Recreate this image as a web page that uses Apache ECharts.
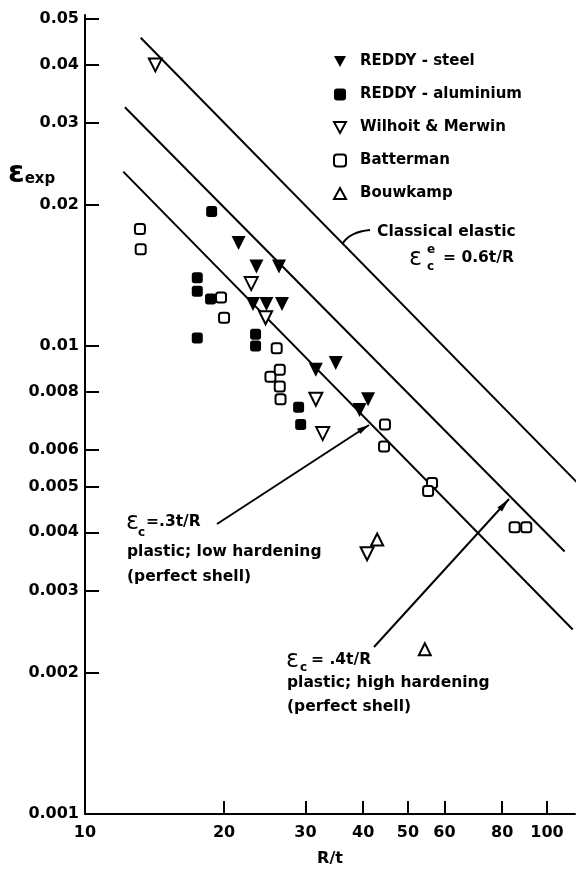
<!DOCTYPE html>
<html><head><meta charset="utf-8">
<script src="https://cdn.jsdelivr.net/npm/echarts@6/dist/echarts.min.js"></script>
<style>html,body{margin:0;padding:0;background:#fff}#c{width:581px;height:872px}</style>
</head><body><div id="c"></div>
<script>
// ---- data ----
const xTicks = [10, 20, 30, 40, 50, 60, 80, 100];
const yTicks = [0.001, 0.002, 0.003, 0.004, 0.005, 0.006, 0.008, 0.01, 0.02, 0.03, 0.04, 0.05];
const seriesNames = ['REDDY - steel', 'REDDY - aluminium', 'Wilhoit & Merwin', 'Batterman', 'Bouwkamp'];
const reddySteel = [[21.5,0.0166],[23.5,0.0148],[26.3,0.0148],[23.1,0.0123],[24.7,0.0123],[26.7,0.0123],[31.6,0.0089],[34.9,0.0092],[41.0,0.0077],[39.3,0.0073]];
const reddyAluminium = [[18.8,0.0194],[17.5,0.0140],[17.5,0.0131],[18.7,0.0126],[17.5,0.0104],[23.4,0.0106],[23.4,0.0100],[29.0,0.0074],[29.3,0.0068]];
const wilhoitMerwin = [[14.2,0.0399],[22.9,0.0136],[24.6,0.0115],[31.6,0.0077],[32.7,0.0065],[40.8,0.0036]];
const batterman = [[13.15,0.0178],[13.2,0.0161],[19.7,0.0127],[20.0,0.0115],[26.0,0.0099],[25.2,0.0086],[26.4,0.0089],[26.4,0.0082],[26.5,0.0077],[44.6,0.0068],[44.4,0.0061],[56.4,0.0051],[55.3,0.0049],[85.1,0.0041],[90.2,0.0041]];
const bouwkamp = [[42.9,0.00386],[54.4,0.00225]];
const classicalElasticLine = [[13.2,0.0456],[118.3,0.00502]];
const highHardeningLine = [[12.2,0.0324],[109.2,0.00364]];
const lowHardeningLine = [[12.1,0.0236],[113.7,0.00248]];

// ---- chart ----
const FONT = 'DejaVu Sans';
const DOWN = 'path://M0,0 L10,0 L5,9 Z';
const UP = 'path://M5,0 L10,9 L0,9 Z';
const chart = echarts.init(document.getElementById('c'), null, {renderer: 'canvas'});
const fmt = v => String(+(+v).toPrecision(6));
const lineS = (name, data) => ({
  type: 'line', name, data, symbol: 'none', silent: true, clip: false, z: 1,
  lineStyle: {color: '#000', width: 2}
});
const scat = (name, data, symbol, size, filled) => ({
  type: 'scatter', name, data, symbol, symbolSize: size, z: 3,
  itemStyle: {color: filled ? '#000' : '#fff', borderColor: '#000', borderWidth: filled ? 0 : 2, opacity: 1}
});
const txt = (x, y, text, size) => ({
  type: 'text', x, y, z: 10,
  style: {text, font: 'bold ' + size + 'px "' + FONT + '"', fill: '#000',
          textVerticalAlign: 'middle', verticalAlign: 'middle', textAlign: 'left', align: 'left'}
});
const eps = (x, y, size) => ({
  type: 'text', x, y, z: 10,
  style: {text: 'ε', font: size + 'px "' + FONT + '"', fill: '#000',
          textVerticalAlign: 'middle', verticalAlign: 'middle', textAlign: 'left', align: 'left'}
});

const option = {
  animation: false,
  backgroundColor: '#fff',
  grid: {left: 85, right: 6, top: 15, bottom: 58, containLabel: false, outerBoundsMode: 'none'},
  xAxis: {
    type: 'log', logBase: 10, min: 10, max: 115,
    axisLine: {show: true, onZero: false, lineStyle: {color: '#000', width: 2}},
    axisTick: {show: true, inside: true, length: 13, customValues: xTicks, lineStyle: {color: '#000', width: 2}},
    axisLabel: {show: true, customValues: xTicks, color: '#000', fontFamily: FONT, fontWeight: 'bold', fontSize: 16, margin: 11, formatter: fmt},
    splitLine: {show: false}, minorTick: {show: false},
    name: 'R/t', nameLocation: 'middle', nameGap: 37,
    nameTextStyle: {color: '#000', fontFamily: FONT, fontWeight: 'bold', fontSize: 16}
  },
  yAxis: {
    type: 'log', logBase: 10, min: 0.001, max: 0.051,
    axisLine: {show: true, onZero: false, lineStyle: {color: '#000', width: 2}},
    axisTick: {show: true, inside: true, length: 14, customValues: yTicks, lineStyle: {color: '#000', width: 2}},
    axisLabel: {show: true, customValues: yTicks, color: '#000', fontFamily: FONT, fontWeight: 'bold', fontSize: 16, margin: 6, formatter: fmt},
    splitLine: {show: false}, minorTick: {show: false}
  },
  legend: {
    data: [
      {name: seriesNames[0], icon: DOWN},
      {name: seriesNames[1], icon: 'roundRect'},
      {name: seriesNames[2], icon: DOWN},
      {name: seriesNames[3], icon: 'roundRect'},
      {name: seriesNames[4], icon: UP}
    ],
    orient: 'vertical', left: 333, top: 54, padding: 0,
    itemWidth: 12, itemHeight: 12, itemGap: 18, selectedMode: false,
    textStyle: {color: '#000', fontFamily: FONT, fontWeight: 'bold', fontSize: 15, lineHeight: 14, padding: [0, 0, 0, 9]}
  },
  series: [
    lineS('Classical elastic', classicalElasticLine),
    lineS('plastic; high hardening', highHardeningLine),
    lineS('plastic; low hardening', lowHardeningLine),
    scat(seriesNames[0], reddySteel, DOWN, 14, true),
    scat(seriesNames[1], reddyAluminium, 'roundRect', 11, true),
    scat(seriesNames[2], wilhoitMerwin, DOWN, 13, false),
    scat(seriesNames[3], batterman, 'roundRect', 10, false),
    scat(seriesNames[4], bouwkamp, UP, 12, false)
  ],
  graphic: [
    // y-axis title
    {type: 'text', x: 8, y: 174, z: 10, style: {
      text: '{e|ε}{s|exp}', fill: '#000', textVerticalAlign: 'middle', verticalAlign: 'middle',
      rich: {e: {fontFamily: FONT, fontSize: 30, fontWeight: 'bold', fill: '#000', verticalAlign: 'bottom'},
             s: {fontFamily: FONT, fontSize: 15, fontWeight: 'bold', fill: '#000', verticalAlign: 'bottom', padding: [0, 0, 2, 0]}}
    }},
    // classical elastic
    txt(377, 232, 'Classical elastic', 15.5),
    eps(409, 259, 24),
    txt(427, 250, 'e', 12),
    txt(427, 267, 'c', 12),
    txt(443, 258, '= 0.6t/R', 15.5),
    {type: 'bezierCurve', z: 10, shape: {x1: 343, y1: 243, cpx1: 350, cpy1: 232, x2: 370, y2: 230},
     style: {stroke: '#000', lineWidth: 2, fill: null}},
    // .3t/R annotation
    eps(126, 523, 24),
    txt(138, 533, 'c', 12),
    txt(146, 522, '=.3t/R', 15.5),
    txt(127, 552, 'plastic; low hardening', 15.5),
    txt(127, 577, '(perfect shell)', 15.5),
    {type: 'line', z: 10, shape: {x1: 217, y1: 524, x2: 369, y2: 425}, style: {stroke: '#000', lineWidth: 2}},
    {type: 'polygon', z: 10, shape: {points: [[369, 425], [360.3, 434], [357, 428.8]]}, style: {fill: '#000'}},
    // .4t/R annotation
    eps(286, 661, 24),
    txt(300, 668, 'c', 12),
    txt(311, 660, '= .4t/R', 15.5),
    txt(287, 683, 'plastic; high hardening', 15.5),
    txt(287, 707, '(perfect shell)', 15.5),
    {type: 'line', z: 10, shape: {x1: 374, y1: 647, x2: 509, y2: 499}, style: {stroke: '#000', lineWidth: 2}},
    {type: 'polygon', z: 10, shape: {points: [[509, 499], [502, 511.6], [497.4, 507.4]]}, style: {fill: '#000'}}
  ]
};
chart.setOption(option);
</script>
</body></html>
